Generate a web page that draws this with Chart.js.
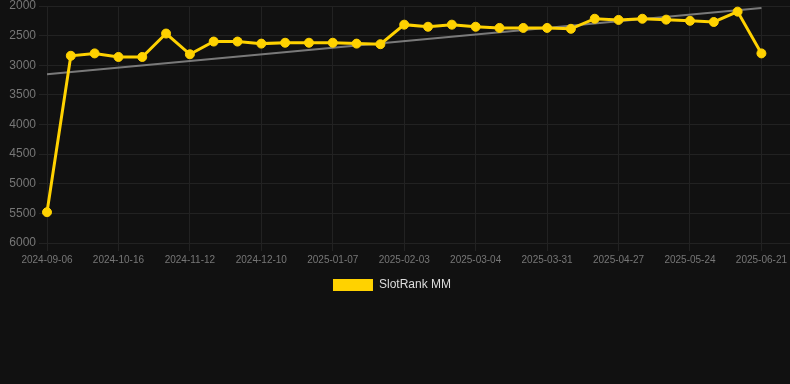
<!DOCTYPE html>
<html>
<head>
<meta charset="utf-8">
<script src="https://cdn.jsdelivr.net/npm/chart.js@4/dist/chart.umd.min.js"></script>
<style>
  html, body { margin: 0; padding: 0; background: #111111; }
  #wrap { position: relative; width: 790px; height: 301px; }
</style>
</head>
<body>
<div id="wrap"><canvas id="rank_chart"></canvas></div>
<script>
const dates = [
  "2024-09-06", "2024-09-19", "2024-10-02", "2024-10-16", "2024-10-25", "2024-11-03",
  "2024-11-12", "2024-11-21", "2024-12-01", "2024-12-10", "2024-12-19", "2024-12-28",
  "2025-01-07", "2025-01-16", "2025-01-25", "2025-02-03", "2025-02-13", "2025-02-23",
  "2025-03-04", "2025-03-13", "2025-03-22", "2025-03-31", "2025-04-09", "2025-04-18",
  "2025-04-27", "2025-05-06", "2025-05-15", "2025-05-24", "2025-06-02", "2025-06-12",
  "2025-06-21",
];
const rankMM = [
  5480, 2840, 2800, 2860, 2860, 2465, 2815, 2600, 2600, 2635, 2620,
  2620, 2620, 2635, 2645, 2315, 2350, 2315, 2350, 2370, 2370, 2370,
  2385, 2215, 2235, 2215, 2230, 2250, 2270, 2095, 2800,
];
const trendEnds = [3150, 2035];
const yTicks = [2000, 2500, 3000, 3500, 4000, 4500, 5000, 5500, 6000];

const GOLD = "#ffd200";

function rankChart() {
  const points = rankMM.map((v, i) => ({ x: i, y: v }));
  const trend = [
    { x: 0, y: trendEnds[0] },
    { x: dates.length - 1, y: trendEnds[1] },
  ];

  const data = {
    datasets: [
      {
        label: "SlotRank MM",
        data: points,
        borderColor: GOLD,
        backgroundColor: GOLD,
        borderWidth: 3,
        pointRadius: 4.5,
        pointBorderWidth: 1,
        pointBackgroundColor: GOLD,
        pointBorderColor: GOLD,
        tension: 0,
        clip: false,
      },
      {
        label: "trend",
        data: trend,
        borderColor: "rgba(140,140,140,0.85)",
        borderWidth: 2,
        pointRadius: 0,
        fill: false,
        clip: false,
      },
    ],
  };

  const config = {
    type: "line",
    data,
    options: {
      responsive: true,
      maintainAspectRatio: false,
      animation: false,
      layout: { autoPadding: false, padding: { left: -6 } },
      plugins: {
        legend: {
          position: "bottom",
          labels: {
            color: "#dddddd",
            font: { size: 12 },
            boxWidth: 40,
            boxHeight: 12,
            generateLabels: (chart) =>
              Chart.defaults.plugins.legend.labels
                .generateLabels(chart)
                .filter((item) => item.text !== "trend")
                .map((item) => ({ ...item, lineWidth: 0 })),
          },
        },
        tooltip: { enabled: false },
      },
      scales: {
        x: {
          type: "linear",
          min: 0,
          max: 31.2,
          grid: { color: "#222222", tickLength: 8 },
          border: { color: "#222222" },
          afterBuildTicks: (axis) => {
            axis.ticks = dates
              .map((d, i) => ({ value: i }))
              .filter((t) => t.value % 3 === 0);
          },
          afterFit: (axis) => {
            axis.paddingRight = 0;
          },
          ticks: {
            autoSkip: false,
            maxRotation: 0,
            color: "#777777",
            font: { size: 10 },
            callback: (v) => dates[v],
          },
        },
        y: {
          reverse: true,
          min: yTicks[0],
          max: yTicks[yTicks.length - 1],
          grid: { color: "#222222", tickLength: 8 },
          border: { color: "#222222" },
          afterFit: (axis) => {
            axis.paddingTop = 6;
            axis.width = 53;
          },
          ticks: {
            stepSize: 500,
            color: "#777777",
            font: { size: 12 },
            callback: (v) => String(v),
          },
        },
      },
    },
  };

  new Chart(document.getElementById("rank_chart"), config);
}
rankChart();
</script>
</body>
</html>
